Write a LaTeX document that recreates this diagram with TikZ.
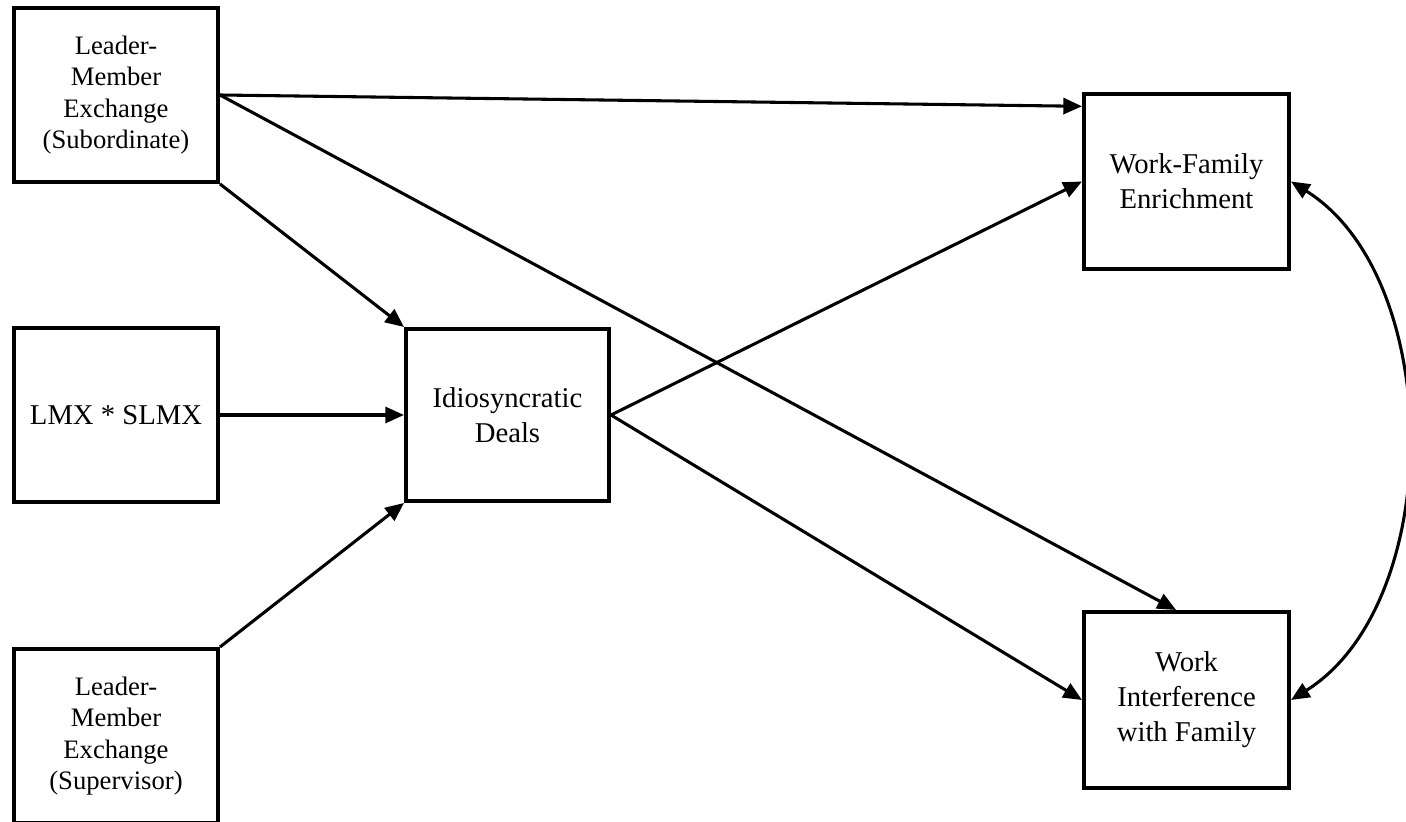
\documentclass[tikz,border=0pt]{standalone}
\usepackage{fontspec}
\setmainfont{Liberation Serif}
\usetikzlibrary{arrows.meta,calc}
\begin{document}
\begin{tikzpicture}[x=0.75pt,y=0.75pt,
  box/.style={draw=black,line width=3pt,fill=white,align=center,inner sep=2pt,
    font=\fontsize{21.5}{26.2}\selectfont},
  smalltext/.style={font=\fontsize{20}{23.4}\selectfont},
  conn/.style={line width=2.3pt,-{Triangle[length=14pt,width=12pt]}},
  biconn/.style={line width=2.3pt,{Triangle[length=14pt,width=12pt]}-{Triangle[length=14pt,width=12pt]}}]
\useasboundingbox (0,0) rectangle (1406,821);
\node[box,smalltext,minimum width=153pt,minimum height=130.5pt] (A) at (116,726) {Leader-\\Member\\Exchange\\(Subordinate)};
\node[box,minimum width=153pt,minimum height=130.5pt] (S) at (116,406) {LMX * SLMX};
\node[box,smalltext,minimum width=153pt,minimum height=130.5pt] (V) at (116,85) {Leader-\\Member\\Exchange\\(Supervisor)};
\node[box,minimum width=152.25pt,minimum height=129pt] (I) at (507.5,406) {Idiosyncratic\\Deals};
\node[box,minimum width=153.75pt,minimum height=131.25pt] (E) at (1186.5,639.5) {Work-Family\\Enrichment};
\node[box,minimum width=153.75pt,minimum height=132pt] (W) at (1186.5,121) {Work\\Interference\\with Family};
\draw[conn] (A.east) -- ($(E.north west)!0.08!(E.south west)$);
\draw[conn] (A.east) -- ($(W.north west)!0.45!(W.north east)$);
\draw[conn] (A.south east) -- (I.north west);
\draw[conn] (S.east) -- (I.west);
\draw[conn] (V.north east) -- (I.south west);
\draw[conn] (I.east) -- (E.west);
\draw[conn] (I.east) -- (W.west);
\draw[biconn] (E.east) to[out=-32,in=32,looseness=0.9] (W.east);
\end{tikzpicture}
\end{document}
